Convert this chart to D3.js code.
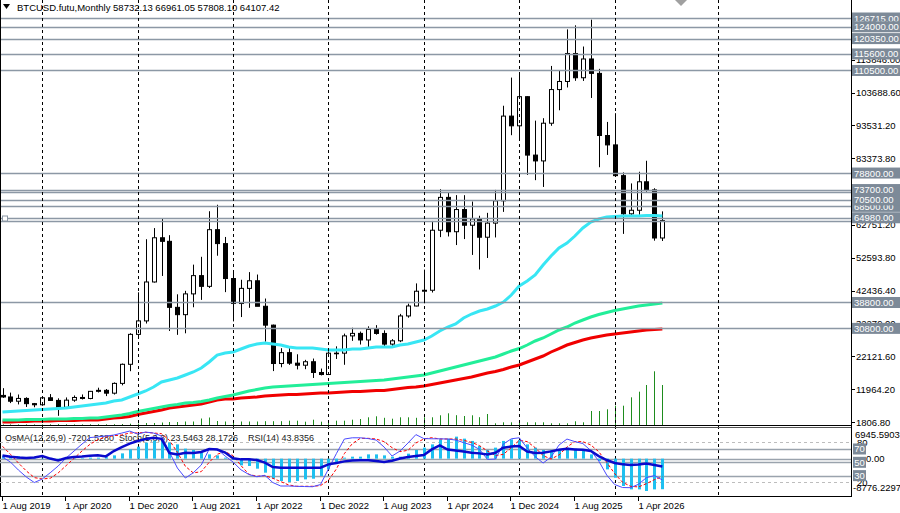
<!DOCTYPE html>
<html>
<head>
<meta charset="utf-8">
<script src="https://cdn.jsdelivr.net/npm/d3@7"></script>
<style>
  body { margin: 0; background: #fff; }
  svg text { font-family: "Liberation Sans", Arial, sans-serif; font-size: 9.5px; }
  svg text.ax { font-size: 9.5px; }
  svg text.ih { font-size: 9px; }
</style>
</head>
<body>
<div id="chart"></div>
<script>
// monthly candles, bar 0 = Aug 2019 ... bar 83 = Jul 2026
const opens  = [10085,9600,8290,9150,7540,7195,9350,8540,6410,8620,9450,9140,11340,11650,10780,13800,19700,28950,33110,45140,
  58800,57700,37300,35040,41460,47100,43790,61300,57000,46200,38480,43160,45510,37630,31800,19940,23300,20050,19420,20490,
  17170,16540,23130,23140,28480,29250,27220,30480,29230,25940,26960,34640,37720,42280,42580,61130,71280,60670,67520,62680,
  64630,58970,63330,70220,96400,93400,102400,84350,82550,94200,104600,107100,115750,108250,114050,109600,90400,87500,78000,66200,
  67300,76100,73600,58732.13]
const highs  = [12325,10950,10370,9510,7750,9580,10500,9190,9460,10070,10380,11460,12470,12050,14100,19940,29300,41950,58350,61800,
  64850,59600,41330,42400,50500,52920,67000,69000,59050,47990,45820,48190,47440,40020,31960,24670,25200,22800,21080,21480,
  18390,23960,25250,29180,31000,29820,31430,31800,30200,27480,35280,38450,44700,48970,64000,73800,72800,71980,71960,70000,
  65600,66500,73600,99600,108300,109600,102500,95000,95750,111900,110500,123200,124450,117900,126200,111000,94600,97300,79000,75600,
  79200,82600,74100,66961.05]
const lows   = [9320,7710,7300,6515,6430,6870,8440,3780,6150,8110,8830,8900,10990,9870,10360,13200,17570,28130,32300,44950,
  47000,30000,28800,29280,37330,39600,43280,53250,42000,32950,34300,37150,37700,26700,17600,18780,19520,18120,18190,15480,
  16260,16500,21350,19550,26940,25810,24800,28860,25170,24900,26550,34100,37600,38550,41880,59000,59200,56550,58400,53500,
  49000,52550,58900,66800,90500,89250,78200,76600,74500,93400,98200,105250,107300,107270,102000,80600,84400,77700,60000,65300,
  65900,73000,57900,57808.10]
const closes = [9600,8290,9150,7540,7195,9350,8540,6410,8620,9450,9140,11340,11650,10780,13800,19700,28950,33110,45140,58800,
  57700,37300,35040,41460,47100,43790,61300,57000,46200,38480,43160,45510,37630,31800,19940,23300,20050,19420,20490,17170,
  16540,23130,23140,28480,29250,27220,30480,29230,25940,26960,34640,37720,42280,42580,61130,71280,60670,67520,62680,64630,
  58970,63330,70220,96400,93400,102400,84350,82550,94200,104600,107100,115750,108250,114050,109600,90400,87500,78000,66200,67300,
  76100,73600,58732.13,64107.42]
const volumes = [600,600,600,600,600,600,700,900,700,600,600,700,800,700,800,1000,1300,1500,
  2000,2000,2500,3000,3000,3500,3500,6500,7500,4000,3500,3500,3500,3500,3500,3800,3800,3800,
  4300,4300,3300,5300,3300,4000,4300,4300,5300,6000,7700,8700,7200,6300,7700,7700,7200,7700,
  7700,9700,11700,9800,9000,9700,7800,11000,1700,2700,2700,2700,2700,2700,2700,1700,1700,1700,
  3700,2700,14000,14000,15700,19300,19300,27700,33300,40000,53700,40000]

// moving averages
const maCyan = [4960,5110,5270,5420,5580,5730,5890,6040,6200,6500,6810,7120,7430,7740,8360,8670,9590,10520,11450,12680,
  14230,14850,15470,16390,17320,18560,20410,22570,23190,23500,24430,25350,25970,26280,25970,25660,25040,24740,24740,24740,
  24430,24120,24120,24120,24430,24430,24740,25040,25040,25040,25660,25970,26590,27210,28440,29990,31220,32150,34000,35240,
  36170,36790,37710,38950,41110,43890,45440,47290,50380,53160,55640,57180,59340,61820,63670,64600,65210,65370,65520,65520,
  65520,65680,65680,65520]
const maGreen = [2490,2490,2490,2640,2640,2640,2800,2800,2800,2950,2950,3100,3100,3410,3720,4030,4500,5110,5580,6040,
  6500,6970,7280,7740,7890,8200,8670,9290,9750,10210,10830,11450,11910,12380,12680,12840,12990,13150,13300,13460,
  13610,13770,13920,14070,14230,14380,14540,14690,14850,15160,15470,15770,16080,16390,17010,17630,18250,18860,19480,20100,
  20720,21340,21950,22880,23810,24580,25660,26900,27830,29060,30300,31220,32460,33390,34310,35090,35700,36320,36790,37250,
  37710,38020,38330,38640]
const maRed = [1870,1870,2020,2020,2180,2180,2180,2330,2330,2330,2490,2490,2490,2800,3100,3260,3570,4190,4650,5110,
  5580,6200,6500,6810,7120,7430,8050,8670,8980,8980,9290,9440,9590,9900,10060,10210,10370,10370,10520,10680,
  10830,10830,10980,11140,11290,11290,11450,11600,11600,11910,12220,12530,12680,12990,13460,13920,14380,14850,15310,15770,
  16390,17010,17470,18090,18860,19480,20410,21340,22260,23500,24580,25660,26430,27210,27830,28290,28750,29060,29370,29680,
  29990,30300,30450,30610]

// oscillators
const osma = [710,710,590,350,120,-120,-240,-350,-120,120,120,240,240,350,
  780,1250,2190,2830,3780,4250,4550,3780,3370,2360,2050,1420,1010,780,240,
  -240,-1580,-1720,-2360,-3300,-4720,-5260,-5500,-5260,-4880,-4720,-4080,-2530,-940,
  240,470,470,1010,1010,780,470,470,1180,2050,2600,3370,4550,4720,
  5190,4720,4180,3000,2050,2600,4180,4550,4410,3370,2600,2050,2050,2190,2600,2360,2050,1010,-540,-2530,-4480,-6440,-7240,-7240,-7620,-7240,-7201.528]
const rsi = [60.1,58.3,57.1,56.4,57.1,59.4,55.6,52.9,56.4,57.9,58.6,59.8,60.4,58.9,66.9,72.9,78.1,81.9,84.9,86.8,85.3,63.9,61.9,64.3,63.9,65.4,69.9,69.1,64.6,
  56,54.4,54.4,53.4,49.6,42.9,41.8,41.8,41.8,41.8,41.8,41.8,46.9,48.9,51.4,52.6,52.9,52.9,51.9,50.4,52.3,55.6,57.9,59.4,60.9,69.4,75.4,69.1,
  67.6,66.1,64.3,63.4,61.9,64.3,71.8,73.6,74.4,66.1,63.9,64.3,66.4,68.8,70.2,69.4,68.7,66.9,59.4,53.4,48.9,46.9,45.9,46.6,48.1,45.9,43.8356]
const stochMain = [57.9,50.4,38.4,27.9,19.6,24.9,34.3,44.4,56.4,66.9,77.4,87.1,88.3,89.4,90.9,93.9,96.9,92.4,95.4,93.9,89.4,65.4,41.4,26.4,34.3,45.9,69.9,69.9,59.4,50.4,
  38.7,31.6,28.3,30.4,19.6,14.4,14.4,13.9,13.6,13.3,16.6,39.9,63.1,84.9,86.8,86.8,85.6,83.4,72.9,59.4,66.9,78.9,91.6,85.6,85.3,85.3,84.9,
  83.4,79.6,75.9,69.4,54.4,54.9,77.4,85.3,86.8,71.4,58.6,48.9,57.9,75.9,84.9,81.1,78.1,67.6,51.9,30.9,16.6,12.1,11.9,17,27,30,23.5463]
const stochSignal = [74,62,49,37,27,25,26,34,45,56,67,77,84,88,90,91,94,94,95,94,93,83,65,44,34,36,50,62,66,60,
  45,32,29,30,26,21,16,14,14,14,15,23,40,63,78,86,86,85,81,72,66,68,79,85,87,85,85,85,83,80,
  75,67,60,62,72,83,81,72,60,55,61,73,81,81,76,66,50,33,20,14,13,18,24,28.1726]

// horizontal levels drawn on the chart
const levels = [126715, 124000, 120350, 115600, 110500, 78800, 73700, 73000, 70500, 68500, 64980, 64107.42, 38800, 30800]
const levelLabels = [126715, 124000, 120350, 115600, 110500, 78800, 73700, 68500, 70500, 64980, 38800, 30800]
const priceTicks = [1806.8, 11964.2, 22121.6, 32279.0, 42436.4, 52593.8, 62751.2, 72908.6, 83373.8, 93531.2, 103688.6, 113846.0]
const xTickIdx = [0, 8, 16, 24, 32, 40, 48, 56, 64, 72, 80]
const xTickLabels = ["1 Aug 2019","1 Apr 2020","1 Dec 2020","1 Aug 2021","1 Apr 2022","1 Dec 2022","1 Aug 2023","1 Apr 2024","1 Dec 2024","1 Aug 2025","1 Apr 2026"]
const yearGridIdx = [5, 17, 29, 41, 53, 65, 77, 90]

const W = 900, H = 513
const svg = d3.select("#chart").append("svg").attr("width", W).attr("height", H)
svg.append("rect").attr("width", W).attr("height", H).attr("fill", "#fff")

// scales
const x = d3.scaleLinear().domain([0, 107]).range([2.5, 853.15])
const y = d3.scaleLinear().domain([1806.8, 126715]).range([422.2, 18])
const vol = d3.scaleLinear().domain([0, 60000]).range([425, 365])
const osc = d3.scaleLinear().domain([0, 100]).range([495.6, 429])
const om = d3.scaleLinear().domain([-8776.2297, 6945.5903]).range([495.9, 429.2])
const cx = i => Math.round(x(i)) + 0.5
const bars = d3.range(opens.length)

const main = svg.append("g")
svg.append("clipPath").attr("id", "mainClip").append("rect").attr("x", 0).attr("y", 0).attr("width", 851).attr("height", 425)
main.attr("clip-path", "url(#mainClip)")

// vertical dashed grid (January of each year)
svg.append("g").selectAll("line").data(yearGridIdx).join("line")
  .attr("x1", d => cx(d)).attr("x2", d => cx(d))
  .attr("y1", 0).attr("y2", 496)
  .attr("stroke", "#000").attr("stroke-dasharray", "3,3").attr("stroke-width", 1)

// volumes
main.append("g").selectAll("line").data(bars).join("line")
  .attr("x1", cx).attr("x2", cx)
  .attr("y1", vol(0)).attr("y2", i => vol(volumes[i]))
  .attr("stroke", "#1e8c1e").attr("stroke-width", 1)

// candles
const cg = main.append("g")
cg.selectAll("line").data(bars).join("line")
  .attr("x1", cx).attr("x2", cx)
  .attr("y1", i => y(highs[i])).attr("y2", i => y(lows[i]))
  .attr("stroke", "#000").attr("stroke-width", 1)
cg.selectAll("rect").data(bars).join("rect")
  .attr("x", i => cx(i) - 2)
  .attr("width", 4)
  .attr("y", i => y(Math.max(opens[i], closes[i])))
  .attr("height", i => Math.max(0.6, Math.abs(y(opens[i]) - y(closes[i]))))
  .attr("fill", i => closes[i] >= opens[i] ? "#fff" : "#000")
  .attr("stroke", "#000").attr("stroke-width", 1)

// moving averages
const maLine = d3.line().x((d, i) => x(i)).y(d => y(d))
main.append("path").datum(maRed).attr("d", maLine).attr("fill", "none").attr("stroke", "#f00000").attr("stroke-width", 3)
main.append("path").datum(maGreen).attr("d", maLine).attr("fill", "none").attr("stroke", "#22ee99").attr("stroke-width", 3)
main.append("path").datum(maCyan).attr("d", maLine).attr("fill", "none").attr("stroke", "#38e6f4").attr("stroke-width", 3)

// horizontal levels
main.append("g").selectAll("line").data(levels).join("line")
  .attr("x1", 0).attr("x2", 851)
  .attr("y1", d => Math.round(y(d)) + 0.5).attr("y2", d => Math.round(y(d)) + 0.5)
  .attr("stroke", "#8c98a5").attr("stroke-width", 1.5)
main.append("rect").attr("x", 2.5).attr("y", Math.round(y(64980)) - 2).attr("width", 5).attr("height", 5)
  .attr("fill", "#fff").attr("stroke", "#8c98a5")

// header
svg.append("path").attr("d", "M3,4 L10,4 L6.5,9 Z").attr("fill", "#000")
svg.append("text").attr("x", 17).attr("y", 11).attr("fill", "#000")
  .text("BTCUSD.futu,Monthly  58732.13 66961.05 57808.10 64107.42")
svg.append("path").attr("d", "M675,0 L687,0 L681,6 Z").attr("fill", "#a0a0a0")

// pane frames
svg.append("line").attr("x1", 0).attr("x2", 852).attr("y1", 425.5).attr("y2", 425.5).attr("stroke", "#000")
svg.append("line").attr("x1", 0).attr("x2", 852).attr("y1", 427.5).attr("y2", 427.5).attr("stroke", "#555")
svg.append("line").attr("x1", 0).attr("x2", 852).attr("y1", 496.5).attr("y2", 496.5).attr("stroke", "#000")
svg.append("line").attr("x1", 851.5).attr("x2", 851.5).attr("y1", 0).attr("y2", 497).attr("stroke", "#000")
svg.append("line").attr("x1", 0.5).attr("x2", 0.5).attr("y1", 0).attr("y2", 497).attr("stroke", "#000")

// right price axis
const ax = svg.append("g")
ax.selectAll("line").data(priceTicks).join("line")
  .attr("x1", 851).attr("x2", 855)
  .attr("y1", d => Math.round(y(d)) + 0.5).attr("y2", d => Math.round(y(d)) + 0.5)
  .attr("stroke", "#000")
ax.selectAll("text").data(priceTicks).join("text").attr("class", "ax")
  .attr("x", 856).attr("y", d => y(d) + 3.5).attr("fill", "#000")
  .text(d => d.toFixed(2))
const lb = svg.append("g").selectAll("g").data(levelLabels).join("g")
lb.append("rect").attr("x", 852).attr("y", d => y(d) - 5.5).attr("width", 50).attr("height", 11).attr("fill", "#7d8a98")
lb.append("text").attr("class", "ax").attr("x", 854).attr("y", d => y(d) + 3.5).attr("fill", "#fff").text(d => d.toFixed(2))

// indicator pane
const ind = svg.append("g")
svg.append("clipPath").attr("id", "indClip").append("rect").attr("x", 0).attr("y", 428).attr("width", 851).attr("height", 68)
ind.attr("clip-path", "url(#indClip)")
ind.append("text").attr("class", "ih").attr("x", 5).attr("y", 441).attr("fill", "#222").text("OsMA(12,26,9) -7201.5280")
ind.append("text").attr("class", "ih").attr("x", 119).attr("y", 441).attr("fill", "#222").text("Stoch(5,3,3) 23.5463 28.1726")
ind.append("text").attr("class", "ih").attr("x", 248).attr("y", 441).attr("fill", "#222").text("RSI(14) 43.8356")

const solidLv = [70, 50, 30], dashLv = [80, 20]
ind.selectAll("line.s").data(solidLv).join("line").attr("class", "s")
  .attr("x1", 0).attr("x2", 851).attr("y1", d => Math.round(osc(d)) + 0.5).attr("y2", d => Math.round(osc(d)) + 0.5)
  .attr("stroke", "#9aa3ad").attr("stroke-width", 1.5)
ind.selectAll("line.d").data(dashLv).join("line").attr("class", "d")
  .attr("x1", 0).attr("x2", 851).attr("y1", d => Math.round(osc(d)) + 0.5).attr("y2", d => Math.round(osc(d)) + 0.5)
  .attr("stroke", "#bdbdbd").attr("stroke-dasharray", "3,3")
ind.append("line").attr("x1", 0).attr("x2", 851).attr("y1", Math.round(om(0)) + 0.5).attr("y2", Math.round(om(0)) + 0.5)
  .attr("stroke", "#9aa3ad").attr("stroke-width", 1.5)

ind.append("g").selectAll("rect").data(bars).join("rect")
  .attr("x", i => cx(i) - 1.5).attr("width", 3)
  .attr("y", i => Math.min(om(0), om(osma[i])))
  .attr("height", i => Math.abs(om(osma[i]) - om(0)))
  .attr("fill", "#1ec0f0")

const oscLine = d3.line().x((d, i) => x(i)).y(d => osc(d))
ind.append("path").datum(stochSignal).attr("d", oscLine).attr("fill", "none")
  .attr("stroke", "#f00").attr("stroke-width", 1).attr("stroke-dasharray", "3,2")
ind.append("path").datum(stochMain).attr("d", oscLine).attr("fill", "none")
  .attr("stroke", "#4a4aff").attr("stroke-width", 1)
ind.append("path").datum(rsi).attr("d", oscLine).attr("fill", "none")
  .attr("stroke", "#0a0acc").attr("stroke-width", 2.5)

// indicator right labels
const ir = svg.append("g")
ir.append("text").attr("class", "ax").attr("x", 855).attr("y", 437.5).attr("fill", "#000").text("6945.5903")
ir.append("text").attr("x", 857).attr("y", 445.5).attr("fill", "#000").text("80")
ir.append("text").attr("class", "ax").attr("x", 866).attr("y", om(0) + 3.5).attr("fill", "#000").text("0.00")
ir.append("text").attr("x", 857).attr("y", 486).attr("fill", "#000").text("20")
ir.append("text").attr("class", "ax").attr("x", 853).attr("y", 490.5).attr("fill", "#000").text("-8776.2297")
const boxLv = ir.selectAll("g").data(solidLv).join("g")
boxLv.append("rect").attr("x", 853).attr("y", d => osc(d) - 5.5).attr("width", 13).attr("height", 11).attr("fill", "#7d8a98")
boxLv.append("text").attr("class", "ax").attr("x", 854.3).attr("y", d => osc(d) + 3.5).attr("fill", "#fff").text(d => d)

// time axis
const tx = svg.append("g")
tx.selectAll("line").data(xTickIdx).join("line")
  .attr("x1", d => cx(d) - 1).attr("x2", d => cx(d) - 1).attr("y1", 496).attr("y2", 501)
  .attr("stroke", "#000")
tx.selectAll("text").data(xTickIdx).join("text")
  .attr("x", d => cx(d) - 1).attr("y", 509).attr("fill", "#000")
  .text((d, k) => xTickLabels[k])
</script>
</body>
</html>
